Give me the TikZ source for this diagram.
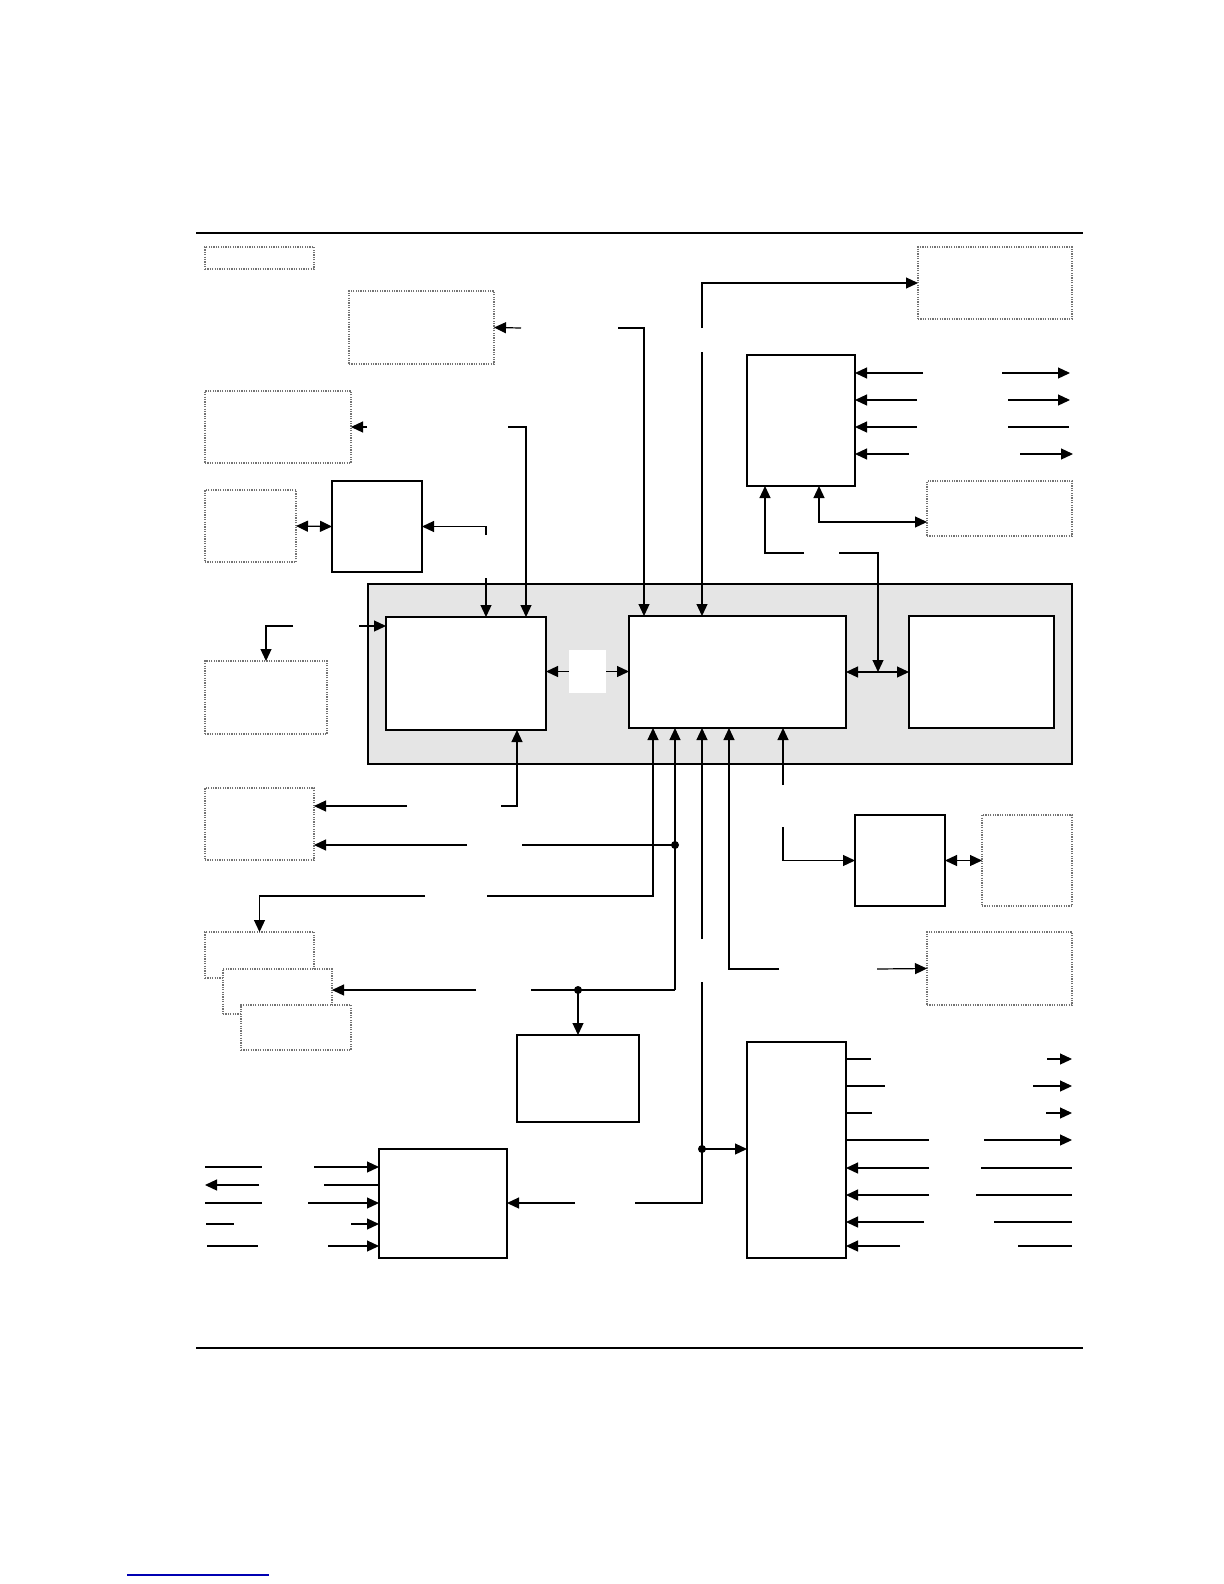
\documentclass[tikz,border=0pt]{standalone}
\usetikzlibrary{arrows.meta,calc}
\tikzset{
  blk/.style={draw=black,line width=0.6pt,fill=white,inner sep=0pt,outer sep=0pt,anchor=north west},
  blk-dot/.style={draw=black!55,line width=0.6pt,dash pattern=on 0.6pt off 0.6pt,fill=white,inner sep=0pt,outer sep=0pt,anchor=north west},
  blk-panel/.style={draw=black,line width=0.6pt,fill=black!10,inner sep=0pt,outer sep=0pt,anchor=north west},
  blk-link/.style={draw=none,fill=white,inner sep=0pt,outer sep=0pt,anchor=north west},
  wire/.style={line width=0.6pt,draw=black},
  arrow/.style={wire,-{Triangle[length=6pt,width=5.5pt]}},
  arrow-both/.style={wire,{Triangle[length=6pt,width=5.5pt]}-{Triangle[length=6pt,width=5.5pt]}},
  rule/.style={line width=0.7pt,draw=black},
  joint/.style={fill=black},
}
\begin{document}
\begin{tikzpicture}[x=0.5pt,y=-0.5pt]
  \useasboundingbox (0,0) rectangle (1224,1584);
  % page rules
  \draw[rule] (196,233) -- (1083,233);
  \draw[rule] (196,1348) -- (1083,1348);
  \draw[line width=0.6pt,draw=blue!70!black] (127,1575) -- (269,1575);

  % blocks
  \foreach \name/\sty/\xa/\ya/\xb/\yb in {
      tag/blk-dot/205/247/314/269, memA/blk-dot/349/291/494/364,
      memB/blk-dot/205/391/351/463, devA/blk-dot/205/490/296/562,
      devB/blk-dot/205/661/327/734, devC/blk-dot/205/788/314/860,
      stackA/blk-dot/205/932/314/978, stackB/blk-dot/223/969/332/1014,
      stackC/blk-dot/241/1005/351/1050, outD/blk-dot/918/247/1072/319,
      outC/blk-dot/927/481/1072/536, outF/blk-dot/982/815/1072/906,
      outL/blk-dot/927/932/1072/1005, ctrlA/blk/332/481/422/572,
      panel/blk-panel/368/584/1072/764, coreL/blk/386/617/546/730,
      link/blk-link/569/650/606/693, coreM/blk/629/616/846/728,
      coreR/blk/909/616/1054/728, ioB/blk/747/355/855/486,
      ioE/blk/855/815/945/906, ioH/blk/517/1035/639/1122,
      ioK/blk/379/1149/507/1258, ioJ/blk/747/1042/846/1258} {
    \node[\sty,minimum width={(\xb-\xa)*0.5pt},minimum height={(\yb-\ya)*0.5pt}]
      (\name) at (\xa,\ya) {};
  }

  % upper connectors
  \draw[arrow] (521,328) -- (memA.east);
  \draw[arrow] (618,328) -| (coreM.north -| 644,0);
  \draw[arrow] (367,427) -- (memB.east);
  \draw[arrow] (508,427) -| (coreL.north -| 526,0);
  \draw[arrow-both] (devA.east) -- (ctrlA.west);
  \draw[arrow] (486,535) |- (ctrlA.east);
  \draw[arrow] (486,578) -- (coreL.north -| 486,0);
  \draw[arrow] (293,626) -| (devB.north);
  \draw[arrow] (359,626) -- (coreL.west |- 0,626);
  \draw[arrow] (link.west) -- (coreL.east |- link.west);
  \draw[arrow] (link.east) -- (coreM.west |- link.east);
  \draw[arrow-both] (coreM.east) -- (coreR.west);
  \draw[arrow] (839,553) -| (coreM.east -| 878,0);
  \draw[arrow] (804,553) -| (ioB.south -| 765,0);
  \draw[arrow-both] (ioB.south -| 819,0) |- (outC.west |- 0,522);
  \draw[arrow] (702,328) |- (outD.west);
  \draw[arrow] (702,352) -- (coreM.north -| 702,0);
  \foreach \y/\xl/\xr/\xe/\tip in {373/923/1002/1070/arrow, 400/917/1008/1070/arrow,
      427/917/1008/1069/wire, 454/909/1020/1073/arrow} {
    \draw[arrow] (\xl,\y) -- (ioB.east |- 0,\y);
    \draw[\tip] (\xr,\y) -- (\xe,\y);
  }

  % lower connectors
  \draw[arrow] (501,806) -| (coreL.south -| 517,0);
  \draw[arrow] (407,806) -- (devC.east |- 0,806);
  \draw[arrow] (487,896) -| (coreM.south -| 653,0);
  \draw[arrow] (425,896) -| (stackA.north);
  \draw[arrow] (675,990) -- (coreM.south -| 675,0);
  \draw[wire] (675,990) -- (531,990);
  \draw[wire] (675,845) -- (522,845);
  \draw[arrow] (467,845) -- (devC.east |- 0,845);
  \draw[arrow] (476,990) -- (stackB.east |- 0,990);
  \draw[arrow] (578,990) -- (ioH.north);
  \fill[joint] (675,845) circle (2pt) (578,990) circle (2pt);
  \draw[arrow] (702,939) -- (coreM.south -| 702,0);
  \draw[wire] (702,982) -- (702,1203) -- (635,1203);
  \draw[arrow] (702,1149) -- (ioJ.west |- 0,1149);
  \fill[joint] (702,1149) circle (2pt);
  \draw[arrow] (575,1203) -- (ioK.east |- 0,1203);
  \draw[arrow] (779,969) -| (coreM.south -| 729,0);
  \draw[arrow] (877,969) -- (outL.west);
  \draw[arrow] (783,785) -- (coreM.south -| 783,0);
  \draw[arrow] (783,827) |- (ioE.west);
  \draw[arrow-both] (ioE.east) -- (outF.west);

  % ioJ signals
  \foreach \y/\xl/\xr in {1059/871/1047, 1086/885/1033, 1113/872/1046, 1140/929/984} {
    \draw[wire] (ioJ.east |- 0,\y) -- (\xl,\y);
    \draw[arrow] (\xr,\y) -- (1072,\y);
  }
  \foreach \y/\xl/\xr in {1168/929/981, 1195/929/976, 1222/924/994, 1246/900/1018} {
    \draw[arrow] (\xl,\y) -- (ioJ.east |- 0,\y);
    \draw[wire] (\xr,\y) -- (1072,\y);
  }

  % ioK signals
  \foreach \y/\xa/\xb/\xr in {1167/205/262/314, 1203/205/262/308,
      1224/206/234/351, 1246/207/258/328} {
    \draw[wire] (\xa,\y) -- (\xb,\y);
    \draw[arrow] (\xr,\y) -- (ioK.west |- 0,\y);
  }
  \draw[arrow] (259,1185) -- (205,1185);
  \draw[wire] (324,1185) -- (ioK.west |- 0,1185);
\end{tikzpicture}
\end{document}
